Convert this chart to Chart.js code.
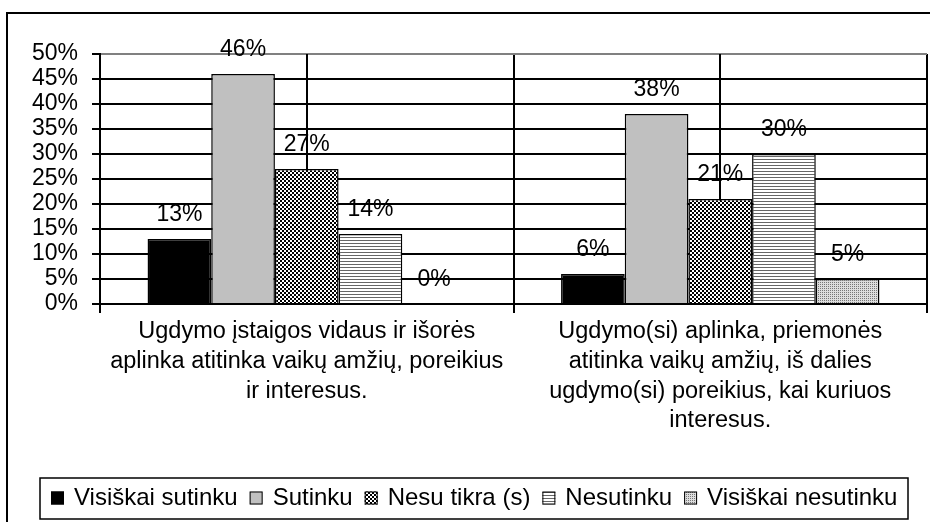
<!DOCTYPE html>
<html>
<head>
<meta charset="utf-8">
<script src="https://cdn.jsdelivr.net/npm/chart.js@4"></script>
<style>
html, body { margin: 0; padding: 0; background: #fff; }
#wrap { width: 930px; height: 522px; }
</style>
</head>
<body>
<div id="wrap"><canvas id="chart" width="930" height="522"></canvas></div>
<script>
// chart data
const categories = [
    ['Ugdymo įstaigos vidaus ir išorės', 'aplinka atitinka vaikų amžių, poreikius', 'ir interesus.'],
    ['Ugdymo(si) aplinka, priemonės', 'atitinka vaikų amžių, iš dalies', 'ugdymo(si) poreikius, kai kuriuos', 'interesus.']
];
const seriesNames = ['Visiškai sutinku', 'Sutinku', 'Nesu tikra (s)', 'Nesutinku', 'Visiškai nesutinku'];
const visiskaiSutinku = [13, 6];
const sutinku = [46, 38];
const nesuTikra = [27, 21];
const nesutinku = [14, 30];
const visiskaiNesutinku = [0, 5];
const yTicks = [0, 5, 10, 15, 20, 25, 30, 35, 40, 45, 50];

const FONT = '"Liberation Sans", Arial, sans-serif';
Chart.defaults.font.family = FONT;
Chart.defaults.color = '#000';

// fill patterns like the old excel ones
function makePattern(kind) {
    const c = document.createElement('canvas');
    const g = c.getContext('2d');
    if (kind == 'checker') {
        c.width = 4; c.height = 4;
        g.fillStyle = '#fff'; g.fillRect(0, 0, 4, 4);
        g.fillStyle = '#000';
        g.fillRect(0, 0, 2, 2); g.fillRect(2, 2, 2, 2);
    } else if (kind == 'hstripe') {
        c.width = 3; c.height = 3;
        g.fillStyle = '#fff'; g.fillRect(0, 0, 3, 3);
        g.fillStyle = '#666'; g.fillRect(0, 0, 3, 1);
    } else {
        c.width = 2; c.height = 2;
        g.fillStyle = '#ddd'; g.fillRect(0, 0, 2, 2);
        g.fillStyle = '#777'; g.fillRect(0, 0, 1, 1);
    }
    return g.createPattern(c, 'repeat');
}

const fills = ['#000000', '#c0c0c0', makePattern('checker'), makePattern('hstripe'), makePattern('dots')];
const seriesData = [visiskaiSutinku, sutinku, nesuTikra, nesutinku, visiskaiNesutinku];

const framePlugin = {
    id: 'frame',
    beforeDraw(chart) {
        const ctx = chart.ctx;
        ctx.save();
        ctx.fillStyle = '#fff';
        ctx.fillRect(0, 0, chart.width, chart.height);
        ctx.strokeStyle = '#000';
        ctx.lineWidth = 2;
        ctx.strokeRect(7, 13, 960, 600);
        ctx.restore();
    },
    beforeDatasetsDraw(chart) {
        // extra vertical lines through the middle of each category
        const ctx = chart.ctx, xs = chart.scales.x, a = chart.chartArea;
        ctx.save();
        ctx.strokeStyle = '#000';
        ctx.lineWidth = 2;
        categories.forEach((c, i) => {
            const x = Math.round(xs.getPixelForValue(i));
            ctx.beginPath();
            ctx.moveTo(x, a.top);
            ctx.lineTo(x, a.bottom);
            ctx.stroke();
        });
        ctx.restore();
    },
    afterDatasetsDraw(chart) {
        const ctx = chart.ctx;
        ctx.save();
        ctx.font = '23px ' + FONT;
        ctx.fillStyle = '#000';
        ctx.textAlign = 'center';
        ctx.textBaseline = 'middle';
        chart.data.datasets.forEach((ds, di) => {
            chart.getDatasetMeta(di).data.forEach((bar, i) => {
                ctx.fillText(ds.data[i] + '%', bar.x, bar.y - 24);
            });
        });
        ctx.restore();
    },
    afterDraw(chart) {
        // legend box
        const ctx = chart.ctx;
        const boxL = 40, boxR = 908, boxT = 478, boxB = 519;
        ctx.save();
        ctx.strokeStyle = '#000';
        ctx.lineWidth = 1.5;
        ctx.strokeRect(boxL, boxT, boxR - boxL, boxB - boxT);
        ctx.font = '24px ' + FONT;
        ctx.textBaseline = 'middle';
        const mark = 13, gapText = 10, gapItem = 12;
        const widths = chart.data.datasets.map(ds => ctx.measureText(ds.label).width);
        let total = 0;
        widths.forEach(w => total += mark + gapText + w);
        total += gapItem * (widths.length - 1);
        let x = Math.round((boxL + boxR) / 2 - total / 2);
        const cy = (boxT + boxB) / 2;
        chart.data.datasets.forEach((ds, i) => {
            ctx.fillStyle = ds.backgroundColor;
            ctx.fillRect(x, cy - 7, mark, mark);
            ctx.lineWidth = 1;
            ctx.strokeStyle = '#000';
            ctx.strokeRect(x + 0.5, cy - 6.5, mark - 1, mark - 1);
            ctx.fillStyle = '#000';
            ctx.fillText(ds.label, x + mark + gapText, cy);
            x += mark + gapText + widths[i] + gapItem;
        });
        ctx.restore();
    }
};

new Chart(document.getElementById('chart'), {
    type: 'bar',
    data: {
        labels: categories,
        datasets: seriesNames.map((name, i) => ({
            label: name,
            data: seriesData[i],
            backgroundColor: fills[i],
            borderColor: '#000',
            borderWidth: 1.5,
            categoryPercentage: 0.77,
            barPercentage: 1
        }))
    },
    options: {
        responsive: false,
        animation: false,
        layout: { padding: { top: 54, right: 3, left: 0, bottom: 0 } },
        plugins: { legend: { display: false }, tooltip: { enabled: false } },
        scales: {
            x: {
                offset: true,
                grid: {
                    offset: true,
                    lineWidth: 2,
                    color: c => (c.index == categories.length ? '#808080' : '#000'),
                    tickColor: '#000',
                    tickLength: 9
                },
                border: { color: '#000', width: 2 },
                ticks: {
                    font: { size: 23.5, lineHeight: 1.26 },
                    padding: 4,
                    maxRotation: 0,
                    autoSkip: false
                },
                afterFit(scale) { scale.height = 218; }
            },
            y: {
                min: 0,
                max: 50,
                afterBuildTicks(scale) { scale.ticks = yTicks.map(v => ({ value: v })); },
                grid: {
                    lineWidth: 2,
                    color: c => (c.tick && c.tick.value == 50 ? '#808080' : '#000'),
                    tickColor: '#000',
                    tickLength: 8
                },
                border: { color: '#000', width: 2 },
                ticks: {
                    font: { size: 23 },
                    padding: 14,
                    autoSkip: false,
                    callback: v => v + '%'
                },
                afterFit(scale) { scale.width = 100; }
            }
        }
    },
    plugins: [framePlugin]
});
</script>
</body>
</html>
